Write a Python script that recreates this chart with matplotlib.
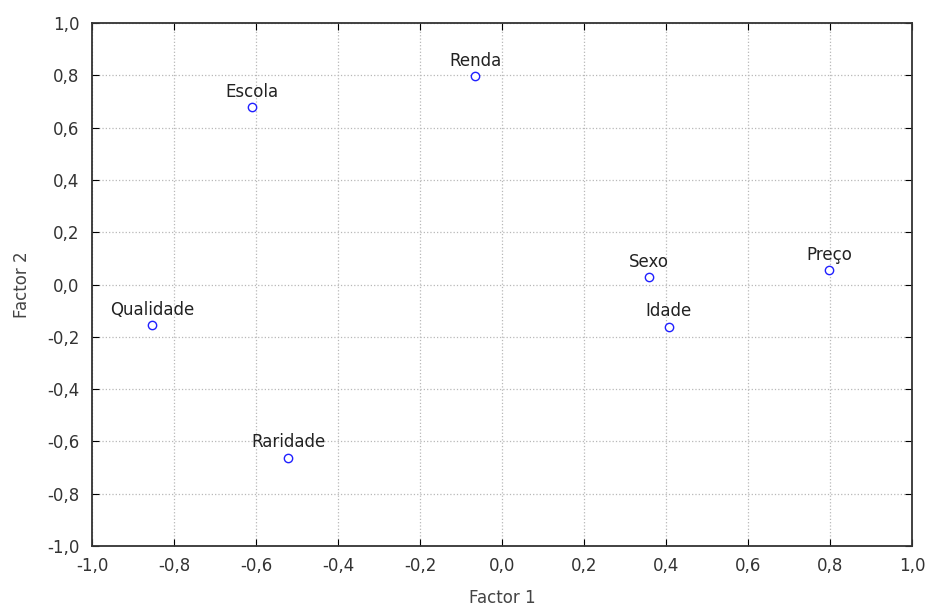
import matplotlib.pyplot as plt
import numpy as np

# factor loadings
variables = ["Escola", "Renda", "Qualidade", "Raridade", "Sexo", "Idade", "Preço"]
factor1 = [-0.611, -0.066, -0.854, -0.521, 0.358, 0.406, 0.798]
factor2 = [0.680, 0.797, -0.155, -0.662, 0.029, -0.161, 0.055]

ticks = np.arange(-1.0, 1.01, 0.2)
tickLabels = [f"{t:.1f}".replace(".", ",").replace("-0,0", "0,0") for t in ticks]

fig = plt.figure(figsize=(9.26, 6.08), dpi=100)
ax = fig.add_axes([0.0994, 0.102, 0.8856, 0.860])

ax.plot(
    factor1,
    factor2,
    linestyle='None',
    marker='o',
    markersize=6,
    markerfacecolor='white',
    markeredgecolor='#2020ff',
    markeredgewidth=1.0,
    zorder=3
)

for name, x, y in zip(variables, factor1, factor2):
    ax.annotate(
        name, (x, y),
        xytext=(0, 4.5), textcoords='offset points',
        ha='center', va='bottom', fontsize=12, color='#222222'
    )

ax.set_xlim(-1, 1)
ax.set_ylim(-1, 1)
ax.set_xticks(ticks)
ax.set_yticks(ticks)
ax.set_xticklabels(tickLabels)
ax.set_yticklabels(tickLabels)
ax.tick_params(direction='in', top=True, right=True, length=5,
               labelsize=12, labelcolor='#333333')
ax.tick_params(axis='x', pad=8)
ax.tick_params(axis='y', pad=9)
ax.grid(True, linestyle=':', color='#b8b8b8', linewidth=0.9)

for spine in ax.spines.values():
    spine.set_linewidth(1.3)
    spine.set_color('#333333')

ax.set_xlabel("Factor 1", fontsize=12, color='#444444', labelpad=10)
ax.set_ylabel("Factor 2", fontsize=12, color='#444444', labelpad=12)

plt.savefig("out.png", dpi=100)
plt.close()
